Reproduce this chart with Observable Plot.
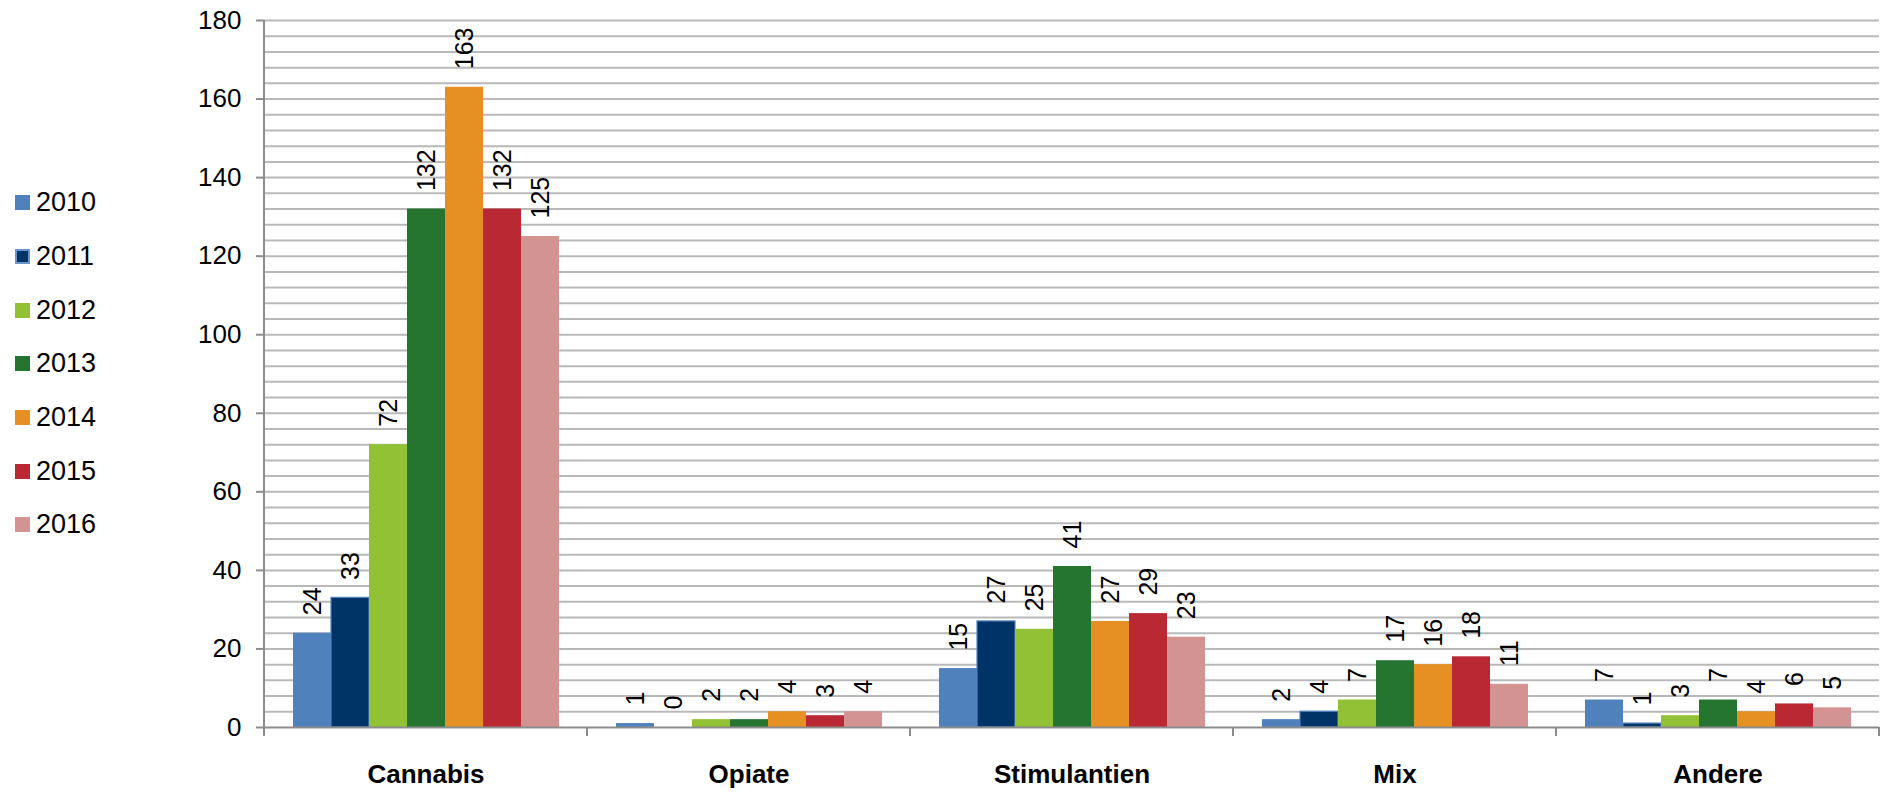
<!DOCTYPE html>
<html><head><meta charset="utf-8">
<script src="https://cdn.jsdelivr.net/npm/d3@7"></script>
<script src="https://cdn.jsdelivr.net/npm/@observablehq/plot@0.6"></script>
<style>
html,body{margin:0;padding:0;background:#fff;}
#wrap{position:relative;width:1881px;height:794px;}
#legend{position:absolute;left:15px;top:176px;font-family:"Liberation Sans",Arial,sans-serif;font-size:27px;color:#000;}
.item{height:53.7px;display:flex;align-items:center;}
.sw{width:15px;height:15px;margin-right:6px;box-sizing:border-box;}
</style></head><body><div id="wrap"><div id="legend"></div></div>
<script>
const categories = ["Cannabis", "Opiate", "Stimulantien", "Mix", "Andere"];
const years = ["2010", "2011", "2012", "2013", "2014", "2015", "2016"];
const colors = ["#4F81BD", "#003366", "#93C136", "#25742F", "#E69024", "#B92833", "#D39393"];
const v2010 = [24, 1, 15, 2, 7];
const v2011 = [33, 0, 27, 4, 1];
const v2012 = [72, 2, 25, 7, 3];
const v2013 = [132, 2, 41, 17, 7];
const v2014 = [163, 4, 27, 16, 4];
const v2015 = [132, 3, 29, 18, 6];
const v2016 = [125, 4, 23, 11, 5];
const yTicks = [0, 20, 40, 60, 80, 100, 120, 140, 160, 180];
const gridTicks = d3.range(4, 181, 4);

const seriesByYear = [v2010, v2011, v2012, v2013, v2014, v2015, v2016];
const data = [];
categories.forEach((c, ci) => years.forEach((yr, yi) => data.push({category: c, year: yr, value: seriesByYear[yi][ci]})));

const font = '"Liberation Sans", Arial, sans-serif';
const chart = Plot.plot({
  width: 1881,
  height: 794,
  marginLeft: 263,
  marginRight: 1,
  marginTop: 20,
  marginBottom: 67,
  style: {fontFamily: font, fontSize: "26px", background: "white", color: "#000"},
  fx: {domain: categories, padding: 0, axis: null},
  x: {domain: years, paddingInner: 0, paddingOuter: 0.75, axis: null},
  y: {domain: [0, 180], axis: null},
  color: {domain: years, range: colors},
  marks: [
    Plot.gridY({ticks: gridTicks, stroke: "#b9b9b9", strokeOpacity: 1, strokeWidth: 2}),
    Plot.barY(data, {fx: "category", x: "year", y: "value", fill: "year",
      stroke: d => d.year === "2011" ? "#4F81BD" : "none", strokeWidth: 1.2}),
    Plot.ruleY([0], {stroke: "#8c8c8c", strokeWidth: 2}),
    Plot.text(data, {fx: "category", x: "year", y: "value", text: d => String(d.value),
      rotate: -90, textAnchor: "start", lineAnchor: "middle", dy: -18, fontSize: 25, fill: "#000"}),
    Plot.axisY({ticks: yTicks, tickSize: 8, tickPadding: 15, stroke: "#8c8c8c", strokeWidth: 2, fill: "#000", fontSize: 26, label: null}),
    Plot.axisFx({anchor: "bottom", tickSize: 0, tickPadding: 37, fontWeight: "bold", fontSize: 26, fill: "#000", label: null})
  ]
});

// axis line and category separators from the library's scales
const fxS = chart.scale("fx");
const yS = chart.scale("y");
const svg = d3.select(chart);
const y0 = yS.apply(0), yTop = yS.apply(180);
const edges = categories.map(c => fxS.apply(c));
edges.push(fxS.apply(categories[categories.length - 1]) + fxS.bandwidth);
const g = svg.append("g").attr("stroke", "#8c8c8c").attr("stroke-width", 2);
g.append("line").attr("x1", edges[0]).attr("x2", edges[0]).attr("y1", yTop).attr("y2", y0 + 9);
edges.slice(1).forEach(e => g.append("line").attr("x1", e).attr("x2", e).attr("y1", y0).attr("y2", y0 + 9));

document.getElementById("wrap").appendChild(chart);

const legend = d3.select("#legend");
years.forEach((yr, i) => {
  const it = legend.append("div").attr("class", "item");
  it.append("div").attr("class", "sw").style("background", colors[i])
    .style("border", yr === "2011" ? "2px solid #6A95CC" : "none");
  it.append("span").text(yr);
});
</script></body></html>
